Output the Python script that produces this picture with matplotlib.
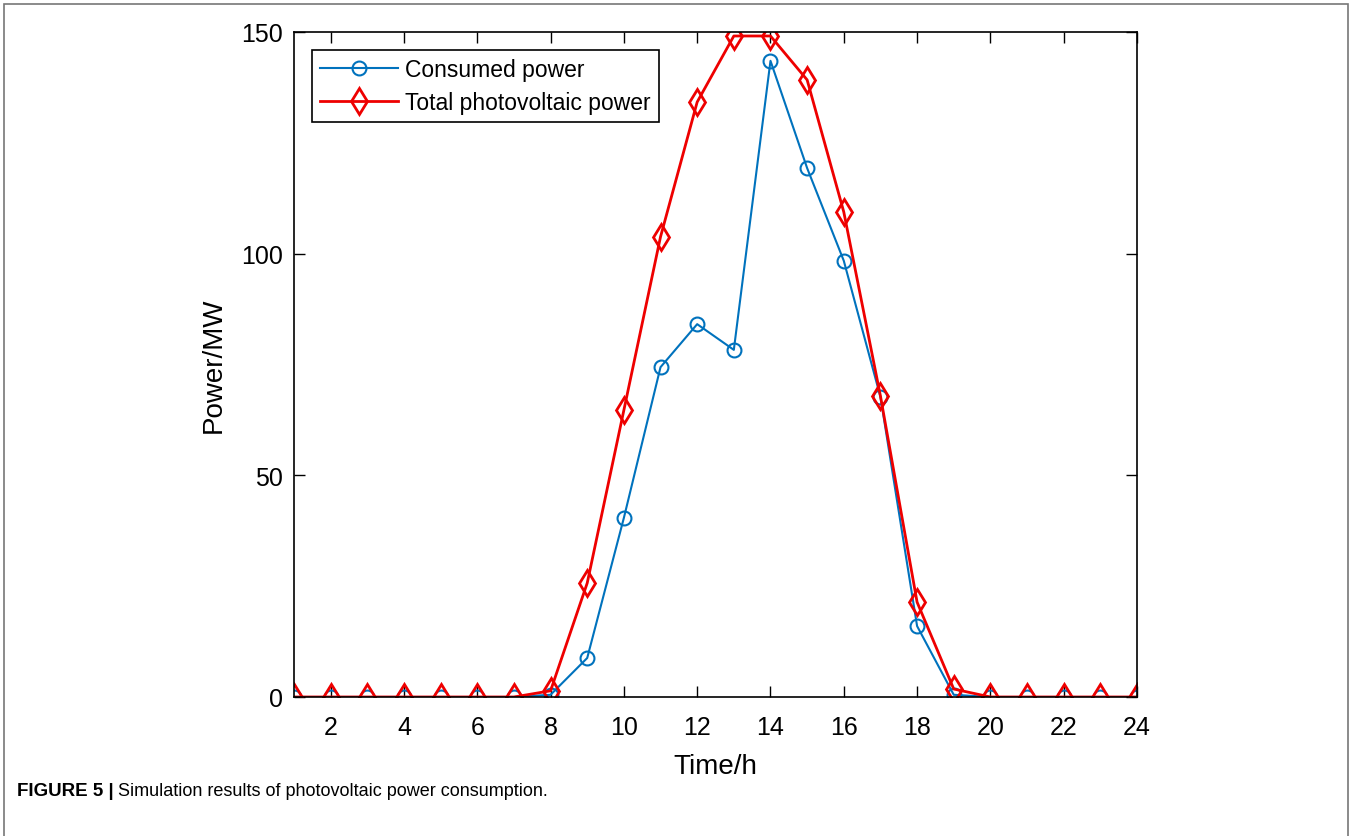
import matplotlib.pyplot as plt
from matplotlib.patches import Rectangle

plt.rcParams['font.family'] = ['Liberation Sans', 'DejaVu Sans']

# hour of day
hours = list(range(1, 25))
# consumed power, MW
consumed = [0, 0, 0, 0, 0, 0, 0, 0.5, 8.8, 40.4, 74.4, 84.1, 78.3, 143.5,
            119.3, 98.4, 67.7, 16.0, 0.5, 0, 0, 0, 0, 0]
# total photovoltaic power, MW
pv_total = [0, 0, 0, 0, 0, 0, 0, 1.4, 25.7, 64.7, 103.8, 134.2, 149.1, 149.1,
            139.2, 109.4, 67.9, 21.4, 1.8, 0, 0, 0, 0, 0]
xtick_vals = list(range(2, 25, 2))
ytick_vals = [0, 50, 100, 150]

fig = plt.figure(figsize=(13.52, 8.37), dpi=100)
ax = fig.add_axes([294/1352, 1 - 698/837, (1137-294)/1352, (698-33)/837])

ax.plot(hours, consumed, color='#0072BD', linewidth=1.5, marker='o',
        markersize=10, markerfacecolor='none', markeredgewidth=1.5,
        label='Consumed power')
ax.plot(hours, pv_total, color='#EE0000', linewidth=2, marker='d',
        markersize=13, markerfacecolor='none', markeredgewidth=2,
        label='Total photovoltaic power')

ax.set_xlim(1, 24)
ax.set_ylim(0, 150)
ax.set_xticks(xtick_vals)
ax.set_yticks(ytick_vals)
ax.tick_params(direction='in', length=8, width=1, labelsize=18,
               top=True, right=True, pad=8)
ax.tick_params(axis='x', pad=13)
for s in ax.spines.values():
    s.set_linewidth(1.2)
ax.set_xlabel('Time/h', fontsize=20, labelpad=10)
ax.set_ylabel('Power/MW', fontsize=20, labelpad=10)

leg = ax.legend(loc='upper left', fontsize=16.5, fancybox=False, framealpha=1,
                edgecolor='black', borderaxespad=0.8, handlelength=3.4,
                borderpad=0.35, labelspacing=0.4, handletextpad=0.3)
leg.get_frame().set_linewidth(1.2)

# figure frame (open at the bottom)
fig.patches.append(Rectangle((4/1352, -0.05), (1348-4)/1352, 1.05 - 5/837,
                             transform=fig.transFigure, fill=False,
                             edgecolor='#777777', linewidth=1.2))

cap_y = 1 - 792/837
t1 = fig.text(17/1352, cap_y, 'FIGURE 5 |', fontsize=13.5, fontweight='bold',
              va='center')
r = fig.canvas.get_renderer()
bb = t1.get_window_extent(renderer=r)
fig.text((bb.x1 + 4)/1352, cap_y,
         'Simulation results of photovoltaic power consumption.',
         fontsize=13, va='center')

fig.savefig('out.png', dpi=100)
